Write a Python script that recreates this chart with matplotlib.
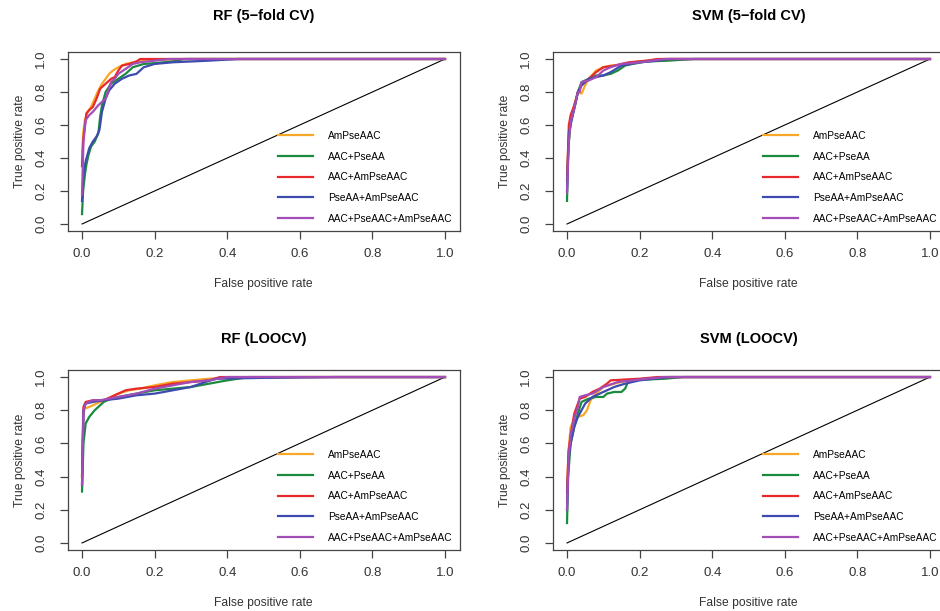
import matplotlib
matplotlib.use("Agg")
import matplotlib.pyplot as plt

plt.rcParams["font.family"] = ["Liberation Sans", "DejaVu Sans"]

# ---- series names and colours ----
series_names = ["AmPseAAC", "AAC+PseAA", "AAC+AmPseAAC", "PseAA+AmPseAAC", "AAC+PseAAC+AmPseAAC"]
series_colors = ["#F7A828", "#1A8A3E", "#E8292C", "#3D4BAE", "#A24DB8"]

panel_titles = ["RF (5\u2212fold CV)", "SVM (5\u2212fold CV)", "RF (LOOCV)", "SVM (LOOCV)"]
tick_values = [0.0, 0.2, 0.4, 0.6, 0.8, 1.0]
tick_labels = ["0.0", "0.2", "0.4", "0.6", "0.8", "1.0"]

# ---- RF, 5-fold CV: (false positive rate, true positive rate) ----
rf_cv_ampseaac = ([0, 0.003, 0.008, 0.015, 0.025, 0.035, 0.045, 0.055, 0.065, 0.075, 0.085, 0.1, 0.12, 0.14, 0.16, 0.2, 0.3, 1.0],
                  [0.38, 0.55, 0.63, 0.68, 0.71, 0.76, 0.81, 0.85, 0.88, 0.91, 0.93, 0.95, 0.97, 0.98, 0.99, 0.995, 1.0, 1.0])
rf_cv_aac_pseaa = ([0, 0.003, 0.008, 0.012, 0.018, 0.025, 0.035, 0.045, 0.05, 0.055, 0.065, 0.08, 0.1, 0.12, 0.14, 0.17, 0.2, 0.25, 0.28, 1.0],
                   [0.06, 0.2, 0.3, 0.36, 0.42, 0.47, 0.5, 0.55, 0.65, 0.72, 0.8, 0.85, 0.88, 0.91, 0.95, 0.97, 0.975, 0.985, 1.0, 1.0])
rf_cv_aac_ampseaac = ([0, 0.003, 0.008, 0.012, 0.02, 0.03, 0.04, 0.05, 0.06, 0.07, 0.08, 0.09, 0.1, 0.11, 0.13, 0.15, 0.16, 1.0],
                      [0.35, 0.5, 0.6, 0.67, 0.69, 0.71, 0.76, 0.82, 0.84, 0.86, 0.88, 0.89, 0.93, 0.96, 0.97, 0.985, 1.0, 1.0])
rf_cv_pseaa_ampseaac = ([0, 0.004, 0.01, 0.02, 0.03, 0.04, 0.048, 0.055, 0.065, 0.075, 0.09, 0.11, 0.13, 0.15, 0.17, 0.2, 0.25, 0.3, 0.35, 0.43, 1.0],
                        [0.14, 0.3, 0.38, 0.46, 0.5, 0.53, 0.57, 0.68, 0.76, 0.81, 0.85, 0.88, 0.9, 0.91, 0.95, 0.97, 0.98, 0.985, 0.99, 1.0, 1.0])
rf_cv_all = ([0, 0.004, 0.01, 0.02, 0.03, 0.045, 0.055, 0.065, 0.08, 0.09, 0.1, 0.12, 0.14, 0.16, 0.2, 0.24, 1.0],
             [0.18, 0.5, 0.63, 0.66, 0.68, 0.72, 0.74, 0.76, 0.86, 0.88, 0.91, 0.94, 0.97, 0.98, 0.99, 1.0, 1.0])

# ---- SVM, 5-fold CV ----
svm_cv_ampseaac = ([0, 0.005, 0.01, 0.02, 0.03, 0.04, 0.05, 0.06, 0.08, 0.1, 0.12, 0.15, 0.18, 0.22, 0.26, 1.0],
                   [0.3, 0.5, 0.62, 0.72, 0.8, 0.79, 0.84, 0.88, 0.93, 0.95, 0.96, 0.965, 0.98, 0.99, 1.0, 1.0])
svm_cv_aac_pseaa = ([0, 0.003, 0.01, 0.02, 0.03, 0.04, 0.06, 0.08, 0.1, 0.12, 0.14, 0.16, 0.18, 0.22, 0.28, 0.35, 1.0],
                    [0.14, 0.45, 0.62, 0.7, 0.8, 0.86, 0.88, 0.9, 0.9, 0.91, 0.93, 0.96, 0.97, 0.985, 0.99, 1.0, 1.0])
svm_cv_aac_ampseaac = ([0, 0.005, 0.01, 0.02, 0.03, 0.04, 0.06, 0.08, 0.1, 0.13, 0.17, 0.22, 0.25, 1.0],
                       [0.26, 0.6, 0.66, 0.72, 0.8, 0.84, 0.88, 0.92, 0.95, 0.96, 0.98, 0.99, 1.0, 1.0])
svm_cv_pseaa_ampseaac = ([0, 0.005, 0.01, 0.02, 0.03, 0.04, 0.06, 0.08, 0.1, 0.12, 0.15, 0.2, 0.25, 0.28, 1.0],
                         [0.2, 0.55, 0.6, 0.7, 0.8, 0.84, 0.88, 0.89, 0.9, 0.92, 0.96, 0.98, 0.99, 1.0, 1.0])
svm_cv_all = ([0, 0.005, 0.01, 0.02, 0.03, 0.035, 0.04, 0.06, 0.08, 0.1, 0.12, 0.15, 0.2, 0.27, 1.0],
              [0.19, 0.5, 0.62, 0.7, 0.8, 0.8, 0.86, 0.87, 0.89, 0.93, 0.95, 0.97, 0.98, 1.0, 1.0])

# ---- RF, LOOCV ----
rf_loo_ampseaac = ([0, 0.003, 0.008, 0.02, 0.04, 0.06, 0.08, 0.1, 0.13, 0.16, 0.2, 0.25, 0.3, 0.35, 0.4, 0.6, 1.0],
                   [0.4, 0.78, 0.81, 0.82, 0.84, 0.86, 0.88, 0.9, 0.92, 0.93, 0.95, 0.97, 0.98, 0.99, 0.995, 1.0, 1.0])
rf_loo_aac_pseaa = ([0, 0.004, 0.01, 0.02, 0.035, 0.045, 0.06, 0.08, 0.1, 0.15, 0.2, 0.25, 0.3, 0.35, 0.4, 0.46, 1.0],
                    [0.31, 0.6, 0.72, 0.76, 0.8, 0.82, 0.85, 0.87, 0.88, 0.9, 0.92, 0.93, 0.94, 0.96, 0.98, 1.0, 1.0])
rf_loo_aac_ampseaac = ([0, 0.004, 0.01, 0.03, 0.06, 0.08, 0.1, 0.12, 0.15, 0.2, 0.25, 0.3, 0.35, 0.38, 1.0],
                       [0.4, 0.82, 0.85, 0.86, 0.86, 0.88, 0.9, 0.92, 0.93, 0.94, 0.96, 0.97, 0.98, 1.0, 1.0])
rf_loo_pseaa_ampseaac = ([0, 0.004, 0.01, 0.03, 0.06, 0.1, 0.15, 0.2, 0.25, 0.3, 0.34, 0.37, 0.5, 0.7, 1.0],
                         [0.35, 0.8, 0.84, 0.85, 0.86, 0.87, 0.89, 0.9, 0.92, 0.94, 0.97, 0.99, 0.995, 1.0, 1.0])
rf_loo_all = ([0, 0.004, 0.01, 0.03, 0.05, 0.1, 0.15, 0.2, 0.25, 0.3, 0.35, 0.4, 1.0],
              [0.35, 0.8, 0.84, 0.86, 0.86, 0.88, 0.9, 0.93, 0.95, 0.97, 0.98, 1.0, 1.0])

# ---- SVM, LOOCV ----
svm_loo_ampseaac = ([0, 0.004, 0.01, 0.02, 0.03, 0.045, 0.055, 0.065, 0.08, 0.1, 0.13, 0.17, 0.22, 0.26, 1.0],
                    [0.32, 0.55, 0.7, 0.74, 0.76, 0.77, 0.8, 0.86, 0.9, 0.94, 0.96, 0.98, 0.99, 1.0, 1.0])
svm_loo_aac_pseaa = ([0, 0.003, 0.01, 0.02, 0.03, 0.04, 0.06, 0.08, 0.1, 0.11, 0.13, 0.15, 0.16, 0.17, 0.22, 0.27, 0.32, 1.0],
                     [0.12, 0.4, 0.6, 0.7, 0.78, 0.85, 0.87, 0.88, 0.88, 0.9, 0.91, 0.91, 0.93, 0.98, 0.985, 0.99, 1.0, 1.0])
svm_loo_aac_ampseaac = ([0, 0.004, 0.01, 0.02, 0.035, 0.05, 0.07, 0.09, 0.11, 0.12, 0.16, 0.2, 0.25, 1.0],
                        [0.3, 0.55, 0.65, 0.78, 0.87, 0.88, 0.91, 0.93, 0.96, 0.98, 0.985, 0.99, 1.0, 1.0])
svm_loo_pseaa_ampseaac = ([0, 0.004, 0.01, 0.02, 0.03, 0.04, 0.05, 0.07, 0.1, 0.13, 0.16, 0.2, 0.24, 0.28, 1.0],
                          [0.2, 0.5, 0.6, 0.7, 0.76, 0.8, 0.84, 0.88, 0.91, 0.94, 0.96, 0.98, 0.99, 1.0, 1.0])
svm_loo_all = ([0, 0.004, 0.01, 0.02, 0.03, 0.035, 0.05, 0.07, 0.1, 0.14, 0.18, 0.22, 0.27, 1.0],
               [0.2, 0.5, 0.65, 0.75, 0.82, 0.88, 0.89, 0.9, 0.94, 0.97, 0.98, 0.99, 1.0, 1.0])

panels = [
    [rf_cv_ampseaac, rf_cv_aac_pseaa, rf_cv_aac_ampseaac, rf_cv_pseaa_ampseaac, rf_cv_all],
    [svm_cv_ampseaac, svm_cv_aac_pseaa, svm_cv_aac_ampseaac, svm_cv_pseaa_ampseaac, svm_cv_all],
    [rf_loo_ampseaac, rf_loo_aac_pseaa, rf_loo_aac_ampseaac, rf_loo_pseaa_ampseaac, rf_loo_all],
    [svm_loo_ampseaac, svm_loo_aac_pseaa, svm_loo_aac_ampseaac, svm_loo_pseaa_ampseaac, svm_loo_all],
]

W, H = 940, 611
fig = plt.figure(figsize=(W / 100, H / 100), dpi=100)

# axes boxes in pixels: (left, top, right, bottom)
boxes = [
    (67.5, 52.4, 459.5, 230.6),
    (552.5, 52.4, 944.5, 230.6),
    (67.5, 370.4, 459.5, 549.6),
    (552.5, 370.4, 944.5, 549.6),
]

text_color = "#333333"
for i, (box, title, curves) in enumerate(zip(boxes, panel_titles, panels)):
    l, t, r, b = box
    ax = fig.add_axes([l / W, 1 - b / H, (r - l) / W, (b - t) / H])
    ax.set_xlim(-0.04, 1.04)
    ax.set_ylim(-0.04, 1.04)
    ax.plot([0, 1], [0, 1], color="black", lw=0.8, zorder=2)
    for (fpr, tpr), name, col in zip(curves, series_names, series_colors):
        ax.plot(fpr, tpr, color=col, lw=1.6, label=name, zorder=3,
                solid_joinstyle="round")
    for s in ax.spines.values():
        s.set_linewidth(0.9)
        s.set_color("#444444")
    ax.set_xticks(tick_values)
    ax.set_xticklabels(tick_labels)
    ax.set_yticks(tick_values)
    ax.set_yticklabels(tick_labels, rotation=90, va="center")
    ax.tick_params(axis="both", length=5.5, width=0.9, color="#444444",
                   labelsize=9.5, labelcolor=text_color)
    ax.tick_params(axis="x", pad=7)
    ax.tick_params(axis="y", pad=9)
    ax.set_title(title, fontsize=10.5, fontweight="bold", pad=23 if i < 2 else 20)
    ax.set_xlabel("False positive rate", fontsize=8.7, color=text_color, labelpad=13)
    ax.set_ylabel("True positive rate", fontsize=8.7, color=text_color, labelpad=7)
    ax.legend(loc="lower left", bbox_to_anchor=(0.52, 0.0), frameon=False,
              fontsize=7.3, handlelength=3.4, handletextpad=1.5,
              labelspacing=1.05, borderaxespad=0.3)

fig.savefig("out.png", dpi=100)
